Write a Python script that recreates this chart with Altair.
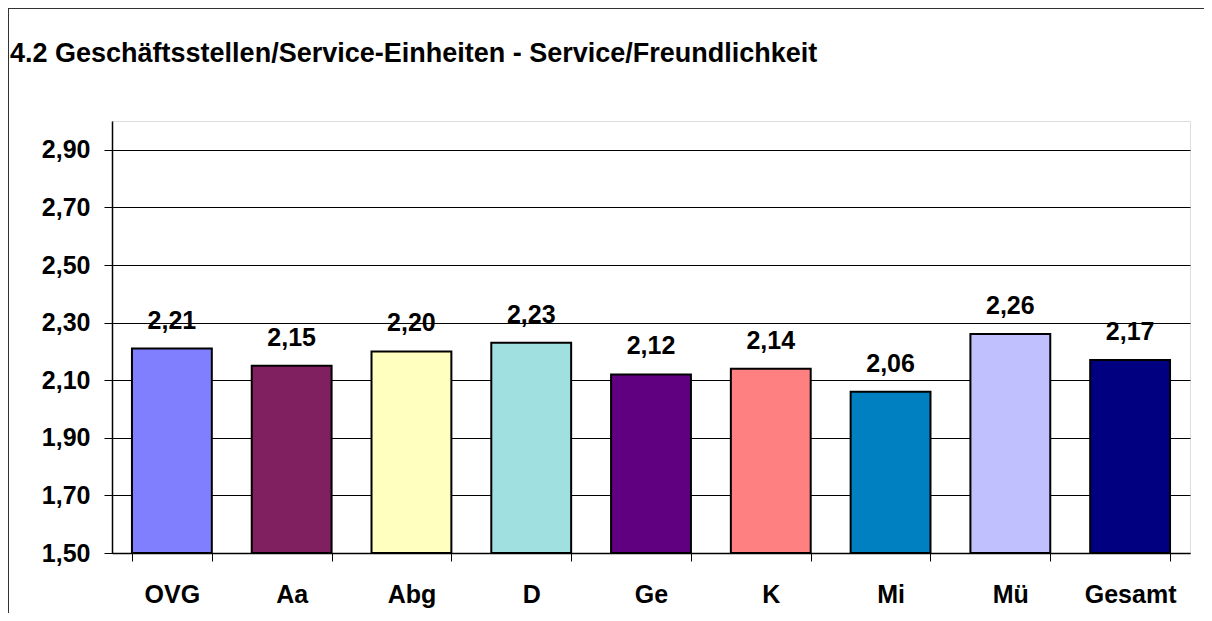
import altair as alt
import pandas as pd

categories = ["OVG", "Aa", "Abg", "D", "Ge", "K", "Mi", "Mü", "Gesamt"]
values = [2.21, 2.15, 2.20, 2.23, 2.12, 2.14, 2.06, 2.26, 2.17]
colors = ["#8080FF", "#802060", "#FFFFC0", "#A0E0E0", "#600080",
          "#FF8080", "#0080C0", "#C0C0FF", "#000080"]
y_ticks = [1.5, 1.7, 1.9, 2.1, 2.3, 2.5, 2.7, 2.9]
title_text = "4.2 Geschäftsstellen/Service-Einheiten - Service/Freundlichkeit"

df = pd.DataFrame({"cat": categories, "val": values, "color": colors})
df["label"] = [f"{v:.2f}".replace(".", ",") for v in values]

FONT = "Liberation Sans"
W, H = 1078, 432

x_enc = alt.X(
    "cat:N", sort=categories,
    scale=alt.Scale(paddingInner=1/3, paddingOuter=1/6),
    axis=alt.Axis(title=None, labelAngle=0, labelFont=FONT, labelFontSize=25,
                  labelFontWeight="bold", labelColor="black", labelPadding=21,
                  tickBand="extent", tickSize=8, tickColor="black", tickWidth=1,
                  domainColor="black", domainWidth=1.5, grid=False),
)
y_scale = alt.Scale(domain=[1.5, 3.0], nice=False, zero=False)

bars = alt.Chart(df).mark_bar(stroke="black", strokeWidth=2).encode(
    x=x_enc,
    y=alt.Y("val:Q", scale=y_scale,
            axis=alt.Axis(title=None, values=y_ticks,
                          labelExpr="replace(format(datum.value, '.2f'), '.', ',')",
                          labelFont=FONT, labelFontSize=25, labelFontWeight="bold",
                          labelColor="black", labelPadding=14, tickSize=8,
                          tickColor="black", domainColor="black", domainWidth=1.5,
                          grid=True, gridColor="black", gridWidth=1, gridOpacity=1)),
    y2=alt.datum(1.5),
    color=alt.Color("color:N", scale=None, legend=None),
)

labels = alt.Chart(df).mark_text(
    font=FONT, fontSize=25, fontWeight="bold", color="black",
    baseline="alphabetic", dy=-20,
).encode(
    x=alt.X("cat:N", sort=categories),
    y=alt.Y("val:Q", scale=y_scale),
    text="label:N",
)

frame_left = alt.Chart(df).mark_rule(color="#333333", strokeWidth=1).encode(
    x=alt.value(-103.5), y=alt.value(-112.5), y2=alt.value(H + 60)
)
frame_top = alt.Chart(df).mark_rule(color="#333333", strokeWidth=1).encode(
    x=alt.value(-103.5), x2=alt.value(W + 14), y=alt.value(-112.5)
)

chart = alt.layer(bars, labels, frame_left, frame_top).properties(
    width=W, height=H,
    title=alt.TitleParams(title_text, anchor="start", frame="group", dx=-102,
                          font=FONT, fontSize=27, fontWeight="bold", color="black",
                          baseline="alphabetic", offset=0, dy=81),
    autosize=alt.AutoSizeParams(type="none"),
    padding={"left": 104, "top": 113, "right": 14, "bottom": 60},
).configure_view(stroke="#808080", strokeWidth=2).configure(background="white")

chart.save("out.html", embed_options={"renderer": "svg", "actions": False})
